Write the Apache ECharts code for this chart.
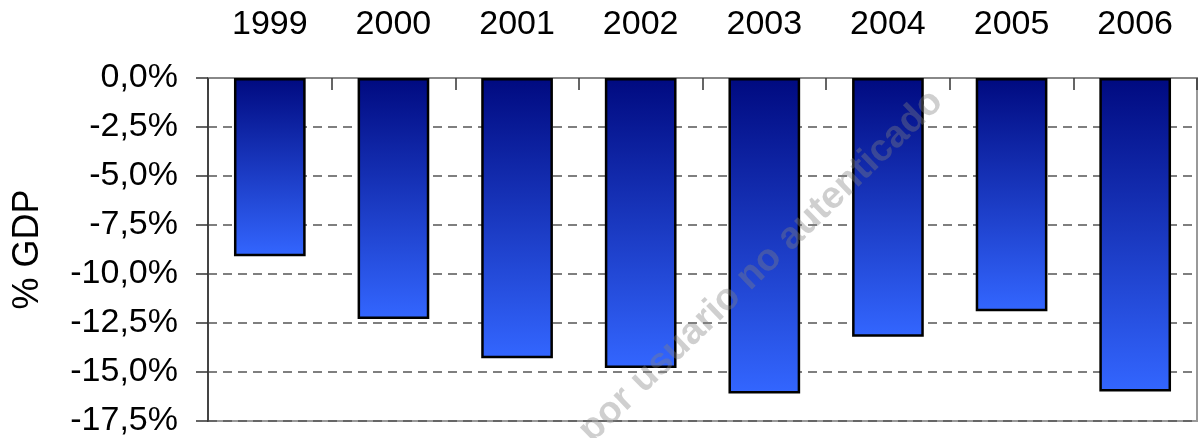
<!DOCTYPE html>
<html>
<head>
<meta charset="utf-8">
<style>
  html, body { margin: 0; padding: 0; background: #fff; }
  #chart { width: 1199px; height: 438px; }
</style>
<script src="https://cdn.jsdelivr.net/npm/echarts@6/dist/echarts.min.js"></script>
</head>
<body>
<div id="chart"></div>
<script>
// Fiscal balance by year, % of GDP
const years = ['1999', '2000', '2001', '2002', '2003', '2004', '2005', '2006'];
const balance = [-9.1, -12.3, -14.3, -14.8, -16.1, -13.2, -11.9, -16.0];
const yTicks = { min: -17.5, max: 0, step: 2.5 };
const yTitle = '% GDP';
const watermark = 'por usuario no autenticado';

const FONT = '"Liberation Sans", Arial, sans-serif';
const chart = echarts.init(document.getElementById('chart'), null, { renderer: 'canvas' });

chart.setOption({
  animation: false,
  backgroundColor: '#ffffff',
  grid: {
    left: 208, right: 2, top: 78, bottom: 17,
    show: true, borderColor: '#999999', borderWidth: 2, backgroundColor: 'transparent'
  },
  xAxis: {
    type: 'category',
    position: 'top',
    data: years,
    boundaryGap: true,
    axisLine: { show: true, lineStyle: { color: '#888888', width: 2 } },
    axisTick: { show: true, inside: true, length: 12, lineStyle: { color: '#333333', width: 1.5 } },
    axisLabel: { color: '#000', fontFamily: FONT, fontSize: 34, margin: 36 },
    splitLine: { show: false }
  },
  yAxis: {
    type: 'value',
    min: yTicks.min, max: yTicks.max, interval: yTicks.step,
    name: yTitle,
    nameLocation: 'middle',
    nameRotate: 90,
    nameGap: 162,
    nameTextStyle: { color: '#000', fontFamily: FONT, fontSize: 36 },
    axisLine: { show: true, lineStyle: { color: '#444444', width: 2 } },
    axisTick: { show: true, inside: false, length: 12, lineStyle: { color: '#333333', width: 1.5 } },
    axisLabel: {
      color: '#000', fontFamily: FONT, fontSize: 34, margin: 30,
      formatter: v => v.toFixed(1).replace('.', ',').replace('-0,0', '0,0') + '%'
    },
    splitLine: {
      show: true,
      lineStyle: { color: '#555555', width: 1.5, type: [9, 6] }
    }
  },
  series: [{
    type: 'bar',
    data: balance,
    barWidth: '58%',
    itemStyle: {
      borderColor: '#000000',
      borderWidth: 2.5,
      color: new echarts.graphic.LinearGradient(0, 0, 0, 1, [
        { offset: 0, color: '#000a80' },
        { offset: 1, color: '#3366ff' }
      ])
    }
  }],
  graphic: [{
    type: 'text',
    x: 598, y: 450,
    rotation: 44 * Math.PI / 180,
    z: 100,
    silent: true,
    style: {
      text: watermark,
      fontFamily: FONT,
      fontWeight: 'bold',
      fontSize: 38,
      fill: 'rgba(128,128,128,0.38)',
      textAlign: 'left',
      textVerticalAlign: 'bottom'
    }
  }]
});
</script>
</body>
</html>
